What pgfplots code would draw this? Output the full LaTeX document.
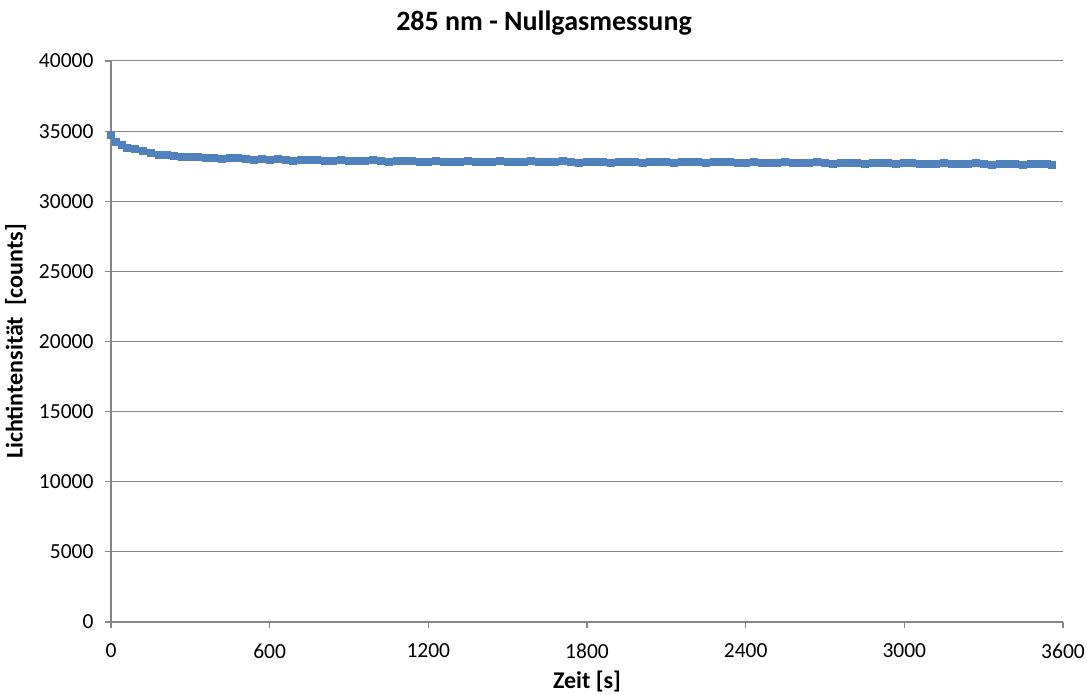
\documentclass[border=0pt]{standalone}
\usepackage{pgfplots}
\pgfplotsset{compat=1.18}
\usepackage{fontspec}
\setmainfont{Carlito}
\definecolor{ser}{HTML}{4F81BD}
\definecolor{axg}{HTML}{868686}
\begin{document}
\begin{tikzpicture}
\useasboundingbox (-111pt,-73pt) rectangle (976pt,622pt);
\begin{axis}[
  at={(0pt,0pt)}, anchor=south west,
  scale only axis, width=952pt, height=561pt,
  xmin=0, xmax=3600, ymin=0, ymax=40000,
  xtick={0,600,...,3600}, ytick={0,5000,...,40000},
  axis lines*=left, axis line style={-, draw=axg, line width=1.2pt},
  tick style={draw=axg, line width=1.2pt}, tick align=outside, major tick length=6pt,
  ymajorgrids, grid style={draw=axg, line width=1pt},
  /pgf/number format/assume math mode=true,
  /pgf/number format/1000 sep={},
  scaled ticks=false,
  ticklabel style={font=\fontsize{21.5}{24}\selectfont, black},
  xticklabel style={yshift=-12pt},
  yticklabel style={xshift=-8pt},
  title={\bfseries 285 nm - Nullgasmessung},
  title style={font=\fontsize{28}{32}\selectfont, at={(0.5,1)}, anchor=base, yshift=24pt, xshift=-43pt},
  xlabel={\bfseries Zeit [s]},
  ylabel={\bfseries Lichtintensität~~[counts]},
  xlabel style={font=\fontsize{24}{28}\selectfont, yshift=-6pt},
  ylabel style={font=\fontsize{24}{28}\selectfont, yshift=6pt},
  clip=false,
]
\addplot[draw=ser, line width=2pt, mark=square*, mark size=3.5pt, mark options={fill=ser, draw=ser, line width=0pt}] coordinates {
(0,34700) (20,34250) (40,34000) (60,33800) (90,33700) (120,33600) (150,33450) (180,33300)
(210,33320) (240,33250) (270,33150) (300,33130) (330,33150) (360,33100) (390,33050) (420,33030)
(450,33080) (480,33050) (510,32980) (540,32950) (570,32980) (600,32950)
(630,32984) (660,32938) (690,32892) (720,32926) (750,32960) (780,32914) (810,32868) (840,32902)
(870,32936) (900,32890) (930,32844) (960,32878) (990,32912) (1020,32866) (1050,32820) (1080,32854)
(1110,32888) (1140,32842) (1170,32796) (1200,32830)
(1230,32868) (1260,32826) (1290,32785) (1320,32823) (1350,32861) (1380,32819) (1410,32777) (1440,32816)
(1470,32854) (1500,32812) (1530,32770) (1560,32809) (1590,32847) (1620,32805) (1650,32764) (1680,32802)
(1710,32840) (1740,32798) (1770,32757) (1800,32795) (1830,32833) (1860,32791) (1890,32750) (1920,32788)
(1950,32826) (1980,32784) (2010,32743) (2040,32781) (2070,32819) (2100,32777) (2130,32736) (2160,32774)
(2190,32812) (2220,32770) (2250,32729) (2280,32767) (2310,32805) (2340,32763) (2370,32722) (2400,32760)
(2430,32797) (2460,32753) (2490,32710) (2520,32747) (2550,32783) (2580,32740) (2610,32697) (2640,32733)
(2670,32770) (2700,32727) (2730,32683) (2760,32720) (2790,32757) (2820,32713) (2850,32670) (2880,32707)
(2910,32743) (2940,32700) (2970,32657) (3000,32693) (3030,32730) (3060,32687) (3090,32643) (3120,32680)
(3150,32717) (3180,32673) (3210,32630) (3240,32667) (3270,32703) (3300,32660) (3330,32617) (3360,32653)
(3390,32690) (3420,32647) (3450,32603) (3480,32640) (3510,32677) (3540,32633) (3560,32610)
};
\end{axis}
\end{tikzpicture}
\end{document}
